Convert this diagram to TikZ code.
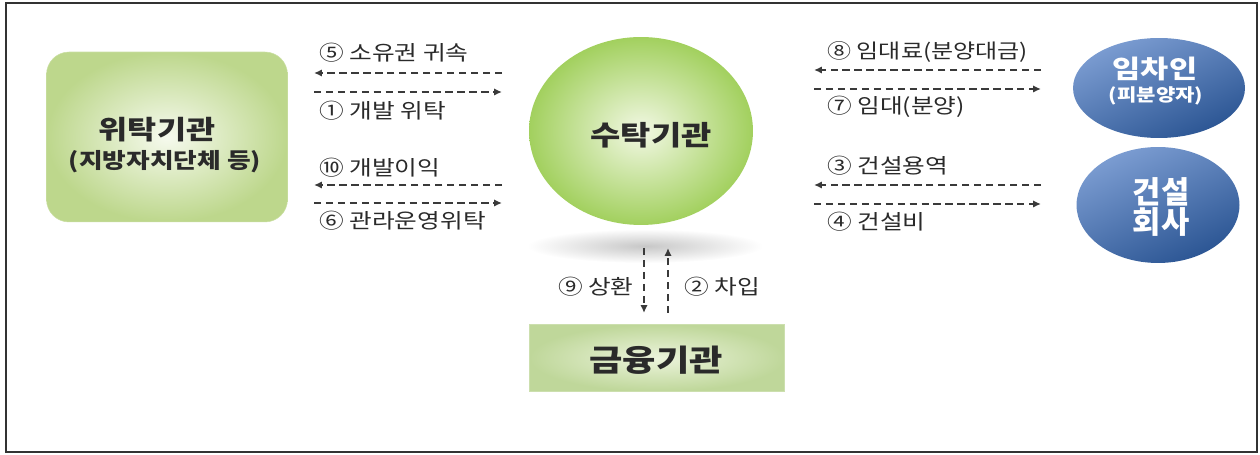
\documentclass[tikz,border=0pt]{standalone}
\usepackage{fontspec}
\newfontfamily\kr[FakeStretch=1.2]{Noto Sans CJK KR}
\newfontfamily\krn{Noto Sans CJK KR}
\usetikzlibrary{arrows.meta,shapes.geometric}
\definecolor{gedge}{HTML}{BDD78C}
\definecolor{gin}{HTML}{F6FAEE}
\definecolor{cedge}{HTML}{A2D05E}
\definecolor{cin}{HTML}{F2F8E4}
\definecolor{bedge}{HTML}{BFD79A}
\definecolor{bin}{HTML}{ECF4DC}
\definecolor{blueL}{HTML}{7C9DD2}
\definecolor{blueD}{HTML}{2B5593}
\definecolor{labc}{HTML}{2A2A2A}
\definecolor{arrc}{HTML}{3A3A3A}
\begin{document}
\begin{tikzpicture}[x=0.02cm,y=-0.02cm,
  frame/.style={draw=black!80,line width=0.9pt},
  greenbox/.style={rectangle,rounded corners=0.45cm,inner color=gin,outer color=gedge,draw=gedge!80,line width=0.3pt},
  bankbox/.style={rectangle,inner color=bin,outer color=bedge,draw=bedge!80,line width=0.3pt},
  greenball/.style={ellipse,inner color=cin,outer color=cedge},
  blueball/.style={ellipse,top color=blueL,bottom color=blueD,shading angle=25},
  dar/.style={draw=arrc,line width=1.1pt,dash pattern=on 4.2pt off 2.6pt,-{Latex[length=4.5pt,width=4.2pt]}},
  lbl/.style={font=\kr\fontsize{11.7}{13}\selectfont,text=labc,inner sep=0pt,anchor=west},
  big/.style={font=\kr\bfseries\fontsize{15.6}{18}\selectfont,text=labc,inner sep=0pt,align=center},
  wtxt/.style={text=white,inner sep=0pt,align=center}
]
\useasboundingbox (0,0) rectangle (1260,455);
\draw[frame] (6,3) rectangle (1257,452);

% shadow under the central circle
\shade[inner color=black!22,outer color=white] (645,246) ellipse [x radius=118, y radius=17];

% main nodes
\node[greenbox,minimum width=4.82cm,minimum height=3.4cm] (wt) at (167,137) {};
\node[big,font=\kr\bfseries\fontsize{15}{17}\selectfont] (wtA) at (157,130) {위탁기관};
\node[big,font=\kr\bfseries\fontsize{12.2}{14}\selectfont] (wtB) at (165,162) {(지방자치단체 등)};

\node[greenball,minimum width=4.48cm,minimum height=3.76cm] (st) at (641,131) {};
\node[big] (stA) at (651,135) {수탁기관};

\node[bankbox,minimum width=5.1cm,minimum height=1.34cm] (bk) at (657,358) {};
\node[big,font=\kr\bfseries\fontsize{17.2}{20}\selectfont] (bkA) at (656,360) {금융기관};

\node[blueball,minimum width=3.44cm,minimum height=2.0cm] (lt) at (1159,88) {};
\node[wtxt,font=\kr\bfseries\fontsize{14.5}{17}\selectfont] (ltA) at (1155,69) {임차인};
\node[wtxt,font=\kr\bfseries\fontsize{10}{12}\selectfont] (ltB) at (1156,96) {(피분양자)};

\node[blueball,minimum width=3.26cm,minimum height=2.32cm] (cc) at (1158,205) {};
\node[wtxt,font=\krn\bfseries\fontsize{17.5}{20}\selectfont] (ccA) at (1161,192) {건설};
\node[wtxt,font=\krn\bfseries\fontsize{17.5}{20}\selectfont] (ccB) at (1161,222) {회사};

% arrow end points (left side)
\coordinate (L1r) at (502,73);  \coordinate (L1l) at (314,73);
\coordinate (L2l) at (314,92);  \coordinate (L2r) at (502,92);
\coordinate (L3r) at (502,185); \coordinate (L3l) at (314,185);
\coordinate (L4l) at (314,203); \coordinate (L4r) at (502,203);
% right side
\coordinate (R1r) at (1041,70);  \coordinate (R1l) at (814,70);
\coordinate (R2l) at (814,89);   \coordinate (R2r) at (1041,89);
\coordinate (R3r) at (1041,185); \coordinate (R3l) at (814,185);
\coordinate (R4l) at (814,204);  \coordinate (R4r) at (1041,204);
% vertical
\coordinate (Dt) at (644,248); \coordinate (Db) at (644,313);
\coordinate (Ub) at (668,313); \coordinate (Ut) at (668,248);

\draw[dar] (L1r) -- (L1l);
\draw[dar] (L2l) -- (L2r);
\draw[dar] (L3r) -- (L3l);
\draw[dar] (L4l) -- (L4r);
\draw[dar] (R1r) -- (R1l);
\draw[dar] (R2l) -- (R2r);
\draw[dar] (R3r) -- (R3l);
\draw[dar] (R4l) -- (R4r);
\draw[dar] (Dt) -- (Db);
\draw[dar] (Ub) -- (Ut);

% labels
\node[lbl] (t5) at (319,53) {⑤ 소유권 귀속};
\node[lbl] (t1) at (319,111) {① 개발 위탁};
\node[lbl] (t10) at (319,168) {⑩ 개발이익};
\node[lbl] (t6) at (319,221) {⑥ 관라운영위탁};

\node[lbl,font=\kr\fontsize{11.4}{13}\selectfont] (t8) at (827,52) {⑧ 임대료(분양대금)};
\node[lbl] (t7) at (827,107) {⑦ 임대(분양)};
\node[lbl] (t3) at (827,166) {③ 건설용역};
\node[lbl] (t4) at (827,222) {④ 건설비};

\node[lbl,anchor=east] (t9) at (634,287) {⑨ 상환};
\node[lbl] (t2) at (684,287) {② 차입};
\end{tikzpicture}
\end{document}
